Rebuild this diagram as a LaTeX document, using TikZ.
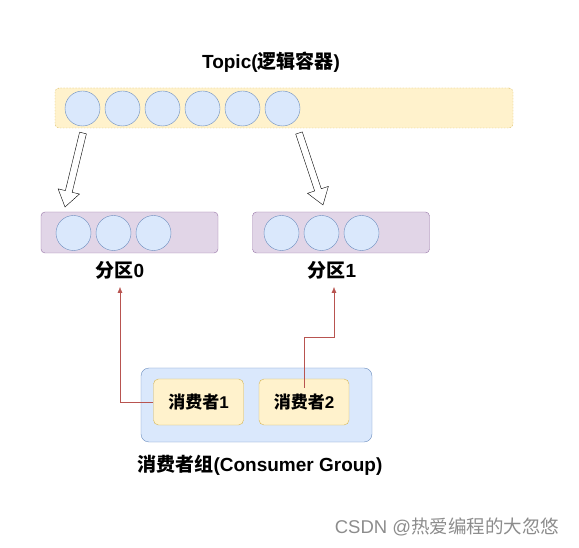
\documentclass[tikz,border=0pt]{standalone}
\usepackage{fontspec}
\setmainfont{Liberation Sans}
\newfontfamily\cjk{Noto Sans CJK SC}
\usetikzlibrary{arrows.meta, positioning, calc}

\definecolor{yfill}{HTML}{FFF2CC}
\definecolor{ydraw}{HTML}{D6B656}
\definecolor{bfill}{HTML}{DAE8FC}
\definecolor{bdraw}{HTML}{6C8EBF}
\definecolor{pfill}{HTML}{E1D5E7}
\definecolor{pdraw}{HTML}{9673A6}
\definecolor{rdraw}{HTML}{B85450}

\begin{document}
\begin{tikzpicture}[x=1pt, y=-1pt, every node/.style={font=\fontsize{19}{22}\selectfont\bfseries},
  topicbox/.style={draw=ydraw, fill=yfill, rounded corners=4pt, dash pattern=on 1.5pt off 1.5pt, minimum width=458pt, minimum height=40pt},
  partbox/.style={draw=pdraw, fill=pfill, rounded corners=4pt, minimum width=177pt, minimum height=41pt},
  groupbox/.style={draw=bdraw, fill=bfill, rounded corners=8pt, minimum width=231pt, minimum height=74pt},
  consumer/.style={draw=ydraw, fill=yfill, rounded corners=5pt, minimum width=90pt, minimum height=46pt, font=\fontsize{17}{20}\selectfont\bfseries},
  msg/.style={draw=bdraw, fill=bfill, circle, inner sep=0pt, minimum size=35pt},
  redarrow/.style={draw=rdraw, -{Latex[length=6pt, width=5pt]}},
  blockarrow/.style={draw=black, fill=white, line join=miter}]
\useasboundingbox (0,0) rectangle (579,548);

% Topic
\node (title) at (271,62) {Topic({\cjk 逻辑容器})};
\node[topicbox] (topic) at (284,108) {};
\foreach \i in {1,...,6}
  \node[msg] (t\i) at ({42.5+40*\i},108.5) {};

% partitions
\node[partbox] (p0) at (129.5,232.5) {};
\node[partbox] (p1) at (341,232.5) {};
\foreach \i in {1,2,3} {
  \node[msg] (p0m\i) at ({33.5+40*\i},233) {};
  \node[msg] (p1m\i) at ({241.5+40*\i},233) {};
}
\node (l0) at (120,270) {{\cjk 分区}0};
\node (l1) at (332,270) {{\cjk 分区}1};

% block arrows from topic to partitions
\coordinate (a0s) at (83,133);
\coordinate (a0e) at (65,207);
\coordinate (a1s) at (299,133);
\coordinate (a1e) at (323,205);
\foreach \s/\e in {a0s/a0e, a1s/a1e} {
  \coordinate (h) at ($(\e)!16pt!(\s)$);
  \draw[blockarrow] ($(\s)!3.5pt!90:(\e)$) -- ($(h)!3.5pt!90:(\e)$) -- ($(h)!11pt!90:(\e)$)
    -- (\e) -- ($(h)!11pt!-90:(\e)$) -- ($(h)!3.5pt!-90:(\e)$) -- ($(\s)!3.5pt!-90:(\e)$) -- cycle;
}

% consumer group
\node[groupbox] (group) at (256.5,405) {};
\node[consumer] (c1) at (198.5,402) {{\cjk 消费者}1};
\node[consumer] (c2) at (304,402) {{\cjk 消费者}2};
\node (glabel) at (260,465) {{\cjk 消费者组}(Consumer Group)};

% consumers read partitions
\coordinate (r0) at (120,287);
\coordinate (r1) at (334,287);
\draw[redarrow] (c1.west) -| (r0);
\draw[redarrow] ([yshift=-9pt]c2.north) |- ($(r1)+(0,50)$) -- (r1);

\node[font=\fontsize{18.5}{22}\selectfont, text=black!45] (mark) at (447,527) {CSDN @{\cjk 热爱编程的大忽悠}};
\end{tikzpicture}
\end{document}
